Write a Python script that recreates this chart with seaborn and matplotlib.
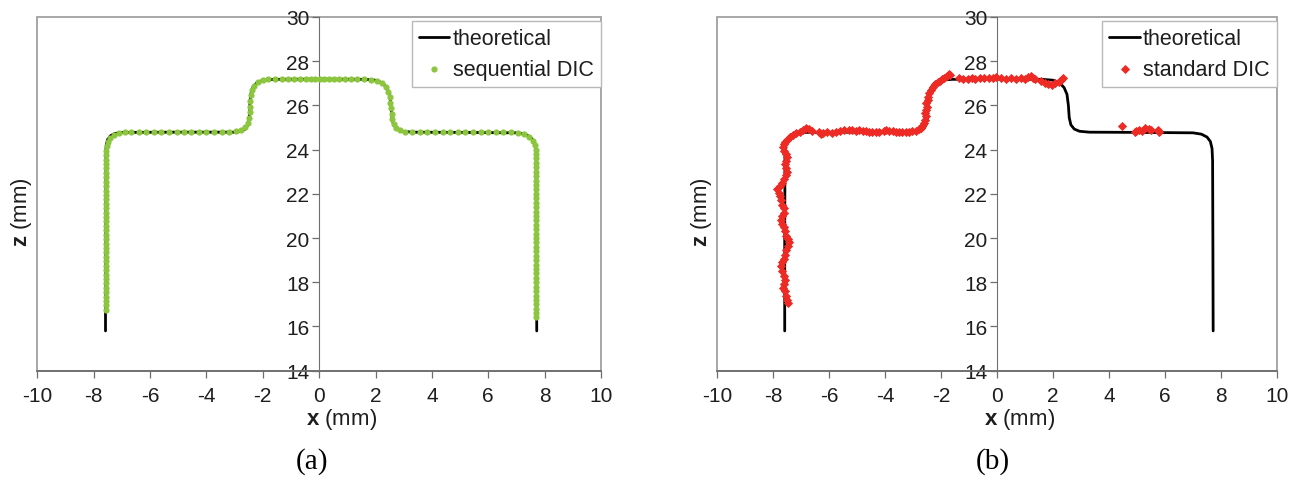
import matplotlib
matplotlib.use("Agg")
import matplotlib.pyplot as plt
import seaborn as sns
import pandas as pd
from matplotlib.patches import Rectangle

# ---------------- data ----------------
x_ticks = [-10, -8, -6, -4, -2, 0, 2, 4, 6, 8, 10]
z_ticks = [14, 16, 18, 20, 22, 24, 26, 28, 30]

theoretical = [(-7.58, 15.8), (-7.58, 20.0), (-7.57, 23.9), (-7.55, 24.25), (-7.5, 24.47),
               (-7.4, 24.63), (-7.25, 24.73), (-7.0, 24.78), (-5.0, 24.79), (-3.0, 24.79),
               (-2.78, 24.83), (-2.62, 24.93), (-2.53, 25.12), (-2.48, 25.45), (-2.46, 26.0),
               (-2.43, 26.5), (-2.36, 26.8), (-2.22, 27.02), (-2.0, 27.14), (-1.6, 27.18),
               (0.0, 27.19), (1.6, 27.18), (2.0, 27.14), (2.24, 27.02), (2.4, 26.8),
               (2.5, 26.5), (2.55, 26.0), (2.58, 25.45), (2.64, 25.12), (2.76, 24.93),
               (2.95, 24.83), (3.3, 24.79), (5.0, 24.78), (7.0, 24.76), (7.3, 24.7),
               (7.5, 24.57), (7.62, 24.37), (7.68, 24.05), (7.7, 23.5), (7.71, 20.0),
               (7.72, 15.8)]

sequential_dic = [
    (-7.56, 16.75), (-7.57, 16.95), (-7.56, 17.15), (-7.57, 17.35), (-7.56, 17.55), (-7.57, 17.75),
    (-7.56, 17.95), (-7.57, 18.15), (-7.57, 18.35), (-7.56, 18.55), (-7.57, 18.75), (-7.56, 18.95),
    (-7.57, 19.15), (-7.56, 19.35), (-7.57, 19.55), (-7.56, 19.75), (-7.57, 19.95), (-7.56, 20.15),
    (-7.57, 20.35), (-7.56, 20.55), (-7.57, 20.75), (-7.56, 20.95), (-7.57, 21.15), (-7.56, 21.35),
    (-7.57, 21.55), (-7.56, 21.75), (-7.57, 21.95), (-7.56, 22.15), (-7.57, 22.35), (-7.56, 22.55),
    (-7.57, 22.75), (-7.56, 22.95), (-7.57, 23.15), (-7.56, 23.35), (-7.56, 23.55), (-7.55, 23.75),
    (-7.55, 23.95), (-7.53, 24.15),
    (-7.49, 24.35), (-7.41, 24.52), (-7.28, 24.64), (-7.1, 24.74), (-6.9, 24.79),
    (-6.66, 24.8), (-6.4, 24.81), (-6.13, 24.8), (-5.86, 24.81), (-5.6, 24.8), (-5.33, 24.8),
    (-5.06, 24.81), (-4.8, 24.8), (-4.53, 24.8), (-4.26, 24.81), (-4.0, 24.8), (-3.73, 24.8),
    (-3.46, 24.81), (-3.2, 24.81), (-2.96, 24.84),
    (-2.76, 24.9), (-2.62, 25.02), (-2.54, 25.22), (-2.49, 25.45), (-2.47, 25.7), (-2.45, 25.95),
    (-2.44, 26.2), (-2.42, 26.45), (-2.38, 26.7), (-2.3, 26.9), (-2.17, 27.05), (-2.0, 27.14),
    (-1.8, 27.18), (-1.57, 27.2), (-1.33, 27.2), (-1.1, 27.2), (-0.88, 27.21), (-0.68, 27.2),
    (-0.48, 27.21), (-0.3, 27.21), (-0.14, 27.2), (0.02, 27.21), (0.18, 27.2), (0.34, 27.21),
    (0.52, 27.2), (0.72, 27.2), (0.93, 27.21), (1.14, 27.2), (1.36, 27.2), (1.6, 27.19), (1.83, 27.17),
    (2.04, 27.12), (2.22, 27.02), (2.36, 26.85), (2.45, 26.62), (2.5, 26.38), (2.53, 26.12),
    (2.55, 25.88), (2.57, 25.62), (2.6, 25.38), (2.65, 25.15), (2.74, 24.98), (2.88, 24.87),
    (3.06, 24.82), (3.3, 24.81), (3.57, 24.8), (3.84, 24.81), (4.11, 24.8), (4.38, 24.8),
    (4.65, 24.81), (4.92, 24.8), (5.19, 24.8), (5.46, 24.81), (5.73, 24.8), (6.0, 24.8),
    (6.27, 24.81), (6.54, 24.8), (6.8, 24.79), (7.05, 24.76),
    (7.28, 24.7), (7.46, 24.58), (7.58, 24.4), (7.65, 24.2),
    (7.68, 24.0), (7.69, 23.8), (7.7, 23.6), (7.7, 23.4), (7.71, 23.2), (7.7, 23.0), (7.71, 22.8),
    (7.7, 22.6), (7.71, 22.4), (7.7, 22.2), (7.71, 22.0), (7.7, 21.8), (7.71, 21.6), (7.7, 21.4),
    (7.71, 21.2), (7.7, 21.0), (7.71, 20.8), (7.7, 20.6), (7.71, 20.4), (7.7, 20.2), (7.71, 20.0),
    (7.7, 19.8), (7.71, 19.6), (7.7, 19.4), (7.71, 19.2), (7.7, 19.0), (7.71, 18.8), (7.7, 18.6),
    (7.71, 18.4), (7.7, 18.2), (7.71, 18.0), (7.7, 17.8), (7.71, 17.6), (7.7, 17.4), (7.71, 17.2),
    (7.7, 17.0), (7.71, 16.8), (7.7, 16.6), (7.71, 16.45)]

standard_dic = [
    (-7.47, 17.05), (-7.5, 17.2), (-7.52, 17.4), (-7.58, 17.6), (-7.64, 17.75), (-7.6, 17.9),
    (-7.56, 18.1), (-7.6, 18.3), (-7.66, 18.5), (-7.72, 18.75), (-7.68, 18.9), (-7.62, 19.05),
    (-7.57, 19.25), (-7.53, 19.45), (-7.48, 19.65), (-7.44, 19.8), (-7.46, 19.95), (-7.52, 20.1),
    (-7.58, 20.3), (-7.62, 20.5), (-7.66, 20.65), (-7.7, 20.8), (-7.66, 21.0), (-7.62, 21.15),
    (-7.6, 21.35), (-7.66, 21.5), (-7.71, 21.7), (-7.76, 21.9), (-7.8, 22.05), (-7.84, 22.2),
    (-7.76, 22.35), (-7.68, 22.5), (-7.6, 22.65), (-7.53, 22.85), (-7.49, 23.0), (-7.52, 23.15),
    (-7.56, 23.35), (-7.53, 23.5), (-7.5, 23.65), (-7.55, 23.8), (-7.6, 23.95), (-7.63, 24.1),
    (-7.6, 24.25), (-7.58, 24.35),
    (-7.5, 24.45), (-7.4, 24.58), (-7.3, 24.68), (-7.18, 24.75), (-7.05, 24.82), (-6.92, 24.9),
    (-6.82, 24.97), (-6.72, 24.92), (-6.62, 24.86),
    (-6.36, 24.8), (-6.28, 24.72), (-6.2, 24.76), (-6.06, 24.78), (-5.88, 24.75), (-5.75, 24.82),
    (-5.6, 24.86), (-5.45, 24.88), (-5.3, 24.9), (-5.17, 24.87), (-5.05, 24.85), (-4.93, 24.87),
    (-4.8, 24.84), (-4.69, 24.83), (-4.56, 24.8), (-4.45, 24.82), (-4.33, 24.79), (-4.21, 24.78),
    (-4.04, 24.84), (-3.95, 24.88), (-3.86, 24.85), (-3.72, 24.83), (-3.62, 24.8), (-3.5, 24.8),
    (-3.38, 24.82), (-3.26, 24.78), (-3.14, 24.8), (-3.02, 24.83), (-2.9, 24.86), (-2.8, 24.92),
    (-2.73, 24.97),
    (-2.66, 25.08), (-2.61, 25.2), (-2.58, 25.35), (-2.55, 25.5), (-2.57, 25.65), (-2.53, 25.8),
    (-2.5, 25.95), (-2.52, 26.1), (-2.48, 26.25), (-2.45, 26.4), (-2.43, 26.55), (-2.37, 26.72),
    (-2.3, 26.85), (-2.22, 26.95), (-2.12, 27.05), (-2.03, 27.1), (-1.95, 27.18), (-1.88, 27.25),
    (-1.8, 27.33), (-1.73, 27.42), (-1.68, 27.36),
    (-1.35, 27.22), (-1.22, 27.2), (-1.05, 27.18), (-0.9, 27.22), (-0.78, 27.2), (-0.62, 27.22),
    (-0.45, 27.25), (-0.3, 27.22), (-0.15, 27.26), (-0.02, 27.3), (0.15, 27.22), (0.32, 27.2),
    (0.5, 27.22), (0.68, 27.2), (0.85, 27.22), (1.0, 27.2), (1.1, 27.27), (1.2, 27.35),
    (1.28, 27.26), (1.36, 27.2), (1.58, 27.12), (1.7, 27.0), (1.82, 26.95), (1.95, 26.93),
    (2.08, 27.02), (2.2, 27.08), (2.3, 27.15), (2.37, 27.22),
    (4.48, 25.05), (4.92, 24.8), (4.98, 24.86), (5.08, 24.9), (5.18, 24.85), (5.3, 24.96),
    (5.42, 24.94), (5.5, 24.9), (5.74, 24.88), (5.8, 24.8)]

panels = [
    {"points": sequential_dic, "label": "sequential DIC", "color": "#8cc63f",
     "marker": "o", "size": 20, "caption": "(a)"},
    {"points": standard_dic, "label": "standard DIC", "color": "#ee2a24",
     "marker": "D", "size": 22, "caption": "(b)"},
]

# ---------------- styling ----------------
sns.set_theme(style="white")
plt.rcParams["font.family"] = ["Liberation Sans", "DejaVu Sans"]
plt.rcParams["mathtext.fontset"] = "custom"
plt.rcParams["mathtext.rm"] = "Liberation Sans"
plt.rcParams["mathtext.bf"] = "Liberation Sans:bold"
plt.rcParams["axes.unicode_minus"] = False

fig = plt.figure(figsize=(13.04, 4.85), dpi=100)
axes_rects = [[0.0286, 0.2336, 0.4323, 0.7293], [0.5498, 0.2336, 0.4295, 0.7293]]
caption_x = [312 / 1304, 993 / 1304]

theo_df = pd.DataFrame(theoretical, columns=["x", "z"])

for rect, panel, cx in zip(axes_rects, panels, caption_x):
    ax = fig.add_axes(rect)
    dic_df = pd.DataFrame(panel["points"], columns=["x", "z"])
    sns.lineplot(data=theo_df, x="x", y="z", sort=False, estimator=None, color="black",
                 lw=2.0, ax=ax, label="theoretical", zorder=3)
    sns.scatterplot(data=dic_df, x="x", y="z", color=panel["color"], marker=panel["marker"],
                    s=panel["size"], linewidth=0, ax=ax, label=panel["label"], zorder=4)

    ax.set_xlim(-10, 10)
    ax.set_ylim(14, 30)
    ax.set_xticks(x_ticks)
    ax.set_yticks(z_ticks)
    ax.spines["left"].set_position(("data", 0))
    ax.spines["right"].set_visible(False)
    ax.spines["top"].set_visible(False)
    ax.spines["left"].set_color("#6e6e6e")
    ax.spines["left"].set_linewidth(0.8)
    ax.spines["bottom"].set_color("#6e6e6e")
    ax.spines["bottom"].set_linewidth(1.3)
    ax.add_patch(Rectangle((0, 0), 1, 1, transform=ax.transAxes, fill=False,
                           edgecolor="#a0a0a0", lw=1.3, clip_on=False, zorder=0))
    ax.tick_params(axis="both", which="major", bottom=True, left=True, direction="out",
                   length=5, width=0.9, color="#6e6e6e", labelsize=15, labelcolor="#1e1e1e")
    ax.tick_params(axis="y", pad=2)
    ax.tick_params(axis="x", pad=6)

    ax.set_xlabel(r"$\mathbf{x}$ (mm)", fontsize=16, color="#1e1e1e")
    ax.xaxis.set_label_coords(0.54, -0.1)
    ax.set_ylabel(r"$\mathbf{z}$ (mm)", fontsize=16, color="#1e1e1e")
    ax.yaxis.set_label_coords(-0.006, 0.45)

    leg = ax.legend(loc="upper right", bbox_to_anchor=(1.0, 0.99), borderaxespad=0,
                    frameon=True, fancybox=False, framealpha=1, edgecolor="#b8b8b8",
                    fontsize=15.5, handlelength=1.4, handletextpad=0.15, borderpad=0.35,
                    labelspacing=0.45, markerscale=1.0)
    leg.get_frame().set_linewidth(1.0)
    for t in leg.get_texts():
        t.set_color("#1e1e1e")

    fig.text(cx, 1 - 462 / 485, panel["caption"], family="Liberation Serif", fontsize=21,
             ha="center", va="center", color="black")

fig.savefig("out.png", dpi=100)
